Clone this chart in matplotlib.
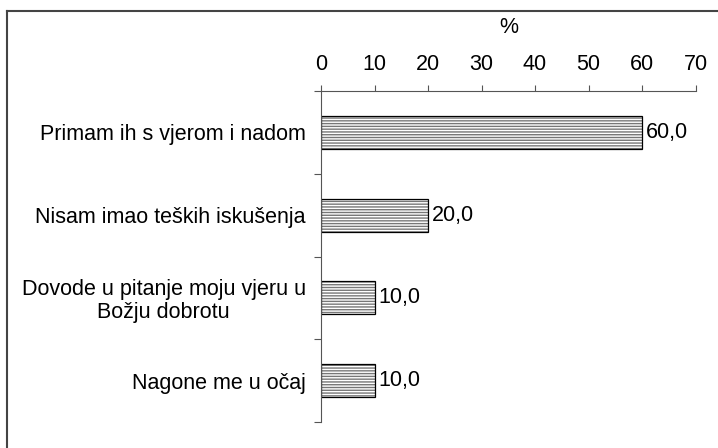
import numpy as np
import matplotlib.pyplot as plt
from matplotlib.lines import Line2D

plt.rcParams['font.family'] = ['Liberation Sans', 'DejaVu Sans']

# Données
kategorije = ["Primam ih s vjerom i nadom",
              "Nisam imao teških iskušenja",
              "Dovode u pitanje moju vjeru u\nBožju dobrotu",
              "Nagone me u očaj"]
postotci = [60.0, 20.0, 10.0, 10.0]
x_ticks = [0, 10, 20, 30, 40, 50, 60, 70]

fs = 15.5

fig = plt.figure(figsize=(7.18, 4.48), dpi=100)
ax = fig.add_axes([321/718, 1-422/448, 374.5/718, 331/448])

y = np.arange(len(kategorije))
# hatch in grey, outline in black
ax.barh(y, postotci, height=0.4, color='white', edgecolor='#777777',
        hatch='------', linewidth=0)
ax.barh(y, postotci, height=0.4, fill=False, edgecolor='black', linewidth=0.9)

for yi, v in zip(y, postotci):
    ax.text(v + 0.8, yi, f"{v:.1f}".replace('.', ','), va='center', ha='left',
            fontsize=fs)

ax.set_xlim(0, 70)
ax.set_ylim(len(kategorije) - 0.5, -0.5)
ax.set_xticks(x_ticks)
ax.xaxis.tick_top()
ax.xaxis.set_label_position('top')
ax.set_xlabel('%', fontsize=fs, labelpad=15)
ax.tick_params(axis='x', direction='out', length=4, width=0.8, color='#555555',
               labelsize=fs, pad=7.5)

ax.set_yticks(y)
ax.set_yticklabels(kategorije, fontsize=fs, multialignment='center',
                   linespacing=1.1)
ax.set_yticks(np.arange(-0.5, len(kategorije)), minor=True)
ax.tick_params(axis='y', which='major', length=0, pad=11)
ax.tick_params(axis='y', which='minor', direction='out', length=5, width=0.8,
               color='#555555')

for s in ['right', 'bottom']:
    ax.spines[s].set_visible(False)
for s in ['left', 'top']:
    ax.spines[s].set_color('#555555')
    ax.spines[s].set_linewidth(0.8)

# okvir slike (vidljiv samo lijevo i gore)
fig.add_artist(Line2D([7/718, 7/718], [0, 1-11/448], transform=fig.transFigure,
                      color='#444444', linewidth=1.5))
fig.add_artist(Line2D([7/718, 1], [1-11/448, 1-11/448], transform=fig.transFigure,
                      color='#444444', linewidth=1.5))

fig.savefig('out.png', dpi=100)
